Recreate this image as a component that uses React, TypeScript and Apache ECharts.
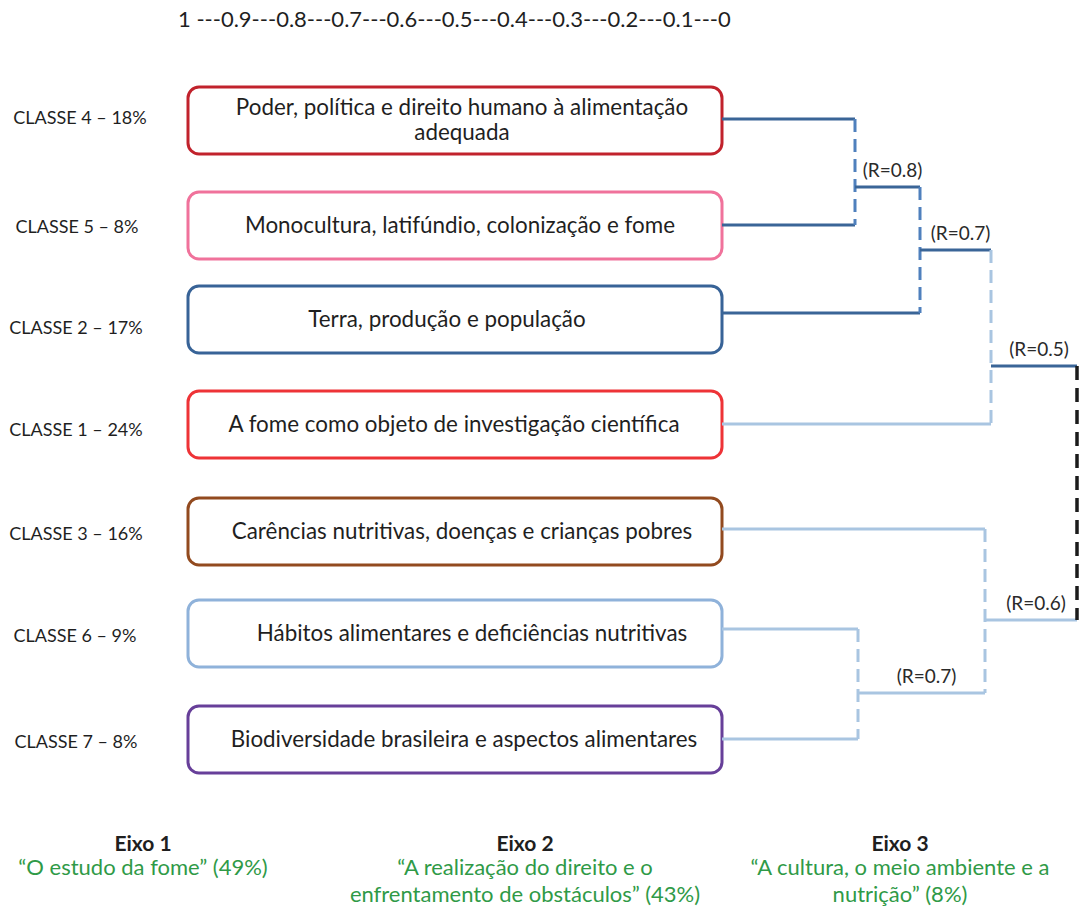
import { useEffect, useRef } from "react";
import * as echarts from "echarts";

// ---------- data ----------
const classNumbers = [4, 5, 2, 1, 3, 6, 7];
const classShares = [18, 8, 17, 24, 16, 9, 8];
const classTitles = [
  "Poder, política e direito humano à alimentação\nadequada",
  "Monocultura, latifúndio, colonização e fome",
  "Terra, produção e população",
  "A fome como objeto de investigação científica",
  "Carências nutritivas, doenças e crianças pobres",
  "Hábitos alimentares e deficiências nutritivas",
  "Biodiversidade brasileira e aspectos alimentares",
];
const scaleTicks = ["1", "0.9", "0.8", "0.7", "0.6", "0.5", "0.4", "0.3", "0.2", "0.1", "0"];
// nodes 0..6 are the classes (rows), 7.. are merges in this order
const mergeChildren = [
  [0, 1],
  [7, 2],
  [8, 3],
  [5, 6],
  [4, 10],
  [9, 11],
];
const mergeR: (number | null)[] = [0.8, 0.7, 0.5, 0.7, 0.6, null];
const eixoTitles = ["Eixo 1", "Eixo 2", "Eixo 3"];
const eixoTexts = [
  "“O estudo da fome” (49%)",
  "“A realização do direito e o\nenfrentamento de obstáculos” (43%)",
  "“A cultura, o meio ambiente e a\nnutrição” (8%)",
];

// ---------- layout & styles ----------
const W = 1081;
const H = 907;
const BOX_LEFT = 188;
const BOX_RIGHT = 722;
const BOX_H = 67;
const boxTop = [87, 192, 286, 391, 498, 600, 706];
const leafLineY = [119, 225, 313, 424, 529, 629, 739];
const classLabelY = [117, 226, 327, 429, 533, 635, 741];
const classLabelX = [80, 77, 76, 76, 76, 75, 76];
const titleCenterX = [462, 460, 447, 454, 462, 472, 464];
const boxColors = ["#c1222c", "#f0729b", "#386397", "#ee3337", "#924a1f", "#8fb2da", "#673f99"];
const mergeX = [855, 920, 991, 858, 985, 1077];
const mergeOutY = [187, 250, 366, 693, 620, 0];
const leafKind = ["dark", "dark", "dark", "light", "light", "light", "light"];
const mergeOutKind = ["dark", "dark", "dark", "light", "light", "none"];
const mergeVertKind = ["mid", "mid", "light", "light", "light", "black"];
const eixoX = [143, 525, 900];

const STROKES: Record<string, { color: string; width: number; dash?: number[] }> = {
  dark: { color: "#3a6597", width: 3 },
  light: { color: "#a9c5e1", width: 3 },
  mid: { color: "#4f80bd", width: 3, dash: [13, 7] },
  lightDash: { color: "#a9c5e1", width: 3, dash: [13, 7] },
  black: { color: "#1b1b1b", width: 3.5, dash: [14, 8] },
};

const FONT = "Lato, 'Noto Sans', sans-serif";

function nodeStart(n: number): [number, number] {
  if (n < 7) return [BOX_RIGHT, leafLineY[n]];
  const j = n - 7;
  return [mergeX[j], mergeOutY[j]];
}
function nodeKind(n: number): string {
  return n < 7 ? leafKind[n] : mergeOutKind[n - 7];
}

// build segments [x1, y1, x2, y2, styleIndex]
const styleNames = ["dark", "light", "mid", "lightDash", "black"];
const segments: number[][] = [];
mergeChildren.forEach((ch, j) => {
  const x = mergeX[j];
  const ys: number[] = [];
  ch.forEach((c) => {
    const [sx, sy] = nodeStart(c);
    ys.push(sy);
    segments.push([sx, sy, x, sy, styleNames.indexOf(nodeKind(c))]);
  });
  const vk = mergeVertKind[j] === "light" ? "lightDash" : mergeVertKind[j];
  segments.push([x, Math.min(...ys), x, Math.max(...ys), styleNames.indexOf(vk)]);
});

const rLabels: number[][] = [];
mergeChildren.forEach((_, j) => {
  const r = mergeR[j];
  if (r == null) return;
  const parent = mergeChildren.findIndex((c) => c.includes(7 + j));
  const x2 = parent >= 0 ? mergeX[parent] : mergeX[j] + 60;
  rLabels.push([(mergeX[j] + x2) / 2 + 5, mergeOutY[j] - 18, r]);
});

export default function App() {
  const ref = useRef<HTMLDivElement>(null);
  useEffect(() => {
    if (!ref.current) return;
    const chart = echarts.init(ref.current, undefined, { renderer: "svg" });
    const option: any = {
      animation: false,
      backgroundColor: "#ffffff",
      grid: { left: 0, right: 0, top: 0, bottom: 0 },
      xAxis: { type: "value", min: 0, max: W, show: false },
      yAxis: { type: "value", min: 0, max: H, inverse: true, show: false },
      series: [
        {
          type: "custom",
          name: "classes",
          clip: false,
          data: classNumbers.map((_, i) => [i]),
          renderItem: (_p: any, api: any) => {
            const i = api.value(0);
            const p1 = api.coord([BOX_LEFT, boxTop[i]]);
            const p2 = api.coord([BOX_RIGHT, boxTop[i] + BOX_H]);
            const tc = api.coord([titleCenterX[i], boxTop[i] + BOX_H / 2]);
            const lc = api.coord([classLabelX[i], classLabelY[i]]);
            return {
              type: "group",
              children: [
                {
                  type: "rect",
                  shape: { x: p1[0], y: p1[1], width: p2[0] - p1[0], height: p2[1] - p1[1], r: 11 },
                  style: { fill: "#ffffff", stroke: boxColors[i], lineWidth: 3 },
                },
                {
                  type: "text",
                  x: tc[0],
                  y: tc[1] - (i === 0 ? 2 : 1),
                  style: {
                    text: classTitles[i],
                    fill: "#1f1f1f",
                    font: `22.4px ${FONT}`,
                    align: "center",
                    verticalAlign: "middle",
                    lineHeight: 25,
                  },
                },
                {
                  type: "text",
                  x: lc[0],
                  y: lc[1],
                  style: {
                    text: `CLASSE ${classNumbers[i]} – ${classShares[i]}%`,
                    fill: "#1f1f1f",
                    font: `18px ${FONT}`,
                    align: "center",
                    verticalAlign: "middle",
                  },
                },
              ],
            };
          },
        },
        {
          type: "custom",
          name: "tree",
          clip: false,
          data: segments,
          renderItem: (_p: any, api: any) => {
            const a = api.coord([api.value(0), api.value(1)]);
            const b = api.coord([api.value(2), api.value(3)]);
            const s = STROKES[styleNames[api.value(4)]];
            return {
              type: "line",
              shape: { x1: a[0], y1: a[1], x2: b[0], y2: b[1] },
              style: { stroke: s.color, lineWidth: s.width, lineDash: s.dash || null },
            };
          },
        },
        {
          type: "custom",
          name: "r",
          clip: false,
          data: rLabels,
          renderItem: (_p: any, api: any) => {
            const a = api.coord([api.value(0), api.value(1)]);
            return {
              type: "text",
              x: a[0],
              y: a[1],
              style: {
                text: `(R=${api.value(2)})`,
                fill: "#2a2a2a",
                font: `19px ${FONT}`,
                align: "center",
                verticalAlign: "middle",
              },
            };
          },
        },
      ],
      graphic: [
        {
          type: "text",
          left: 178,
          top: 7,
          style: {
            text: scaleTicks[0] + " ---" + scaleTicks.slice(1).join("---"),
            fill: "#1f1f1f",
            font: `22px ${FONT}`,
          },
        },
        ...eixoTitles.map((t, k) => ({
          type: "text",
          x: eixoX[k],
          y: 842,
          style: {
            text: t,
            fill: "#1f1f1f",
            font: `bold 21px ${FONT}`,
            align: "center",
            verticalAlign: "middle",
          },
        })),
        ...eixoTexts.map((t, k) => ({
          type: "text",
          x: eixoX[k],
          y: 853,
          style: {
            text: t,
            fill: "#2f9a47",
            font: `22px ${FONT}`,
            align: "center",
            verticalAlign: "top",
            lineHeight: 27,
          },
        })),
      ],
    };
    chart.setOption(option);
    return () => chart.dispose();
  }, []);
  return (
    <div
      ref={ref}
      style={{ position: "absolute", left: 0, top: 0, width: W, height: H, background: "#fff" }}
    />
  );
}
